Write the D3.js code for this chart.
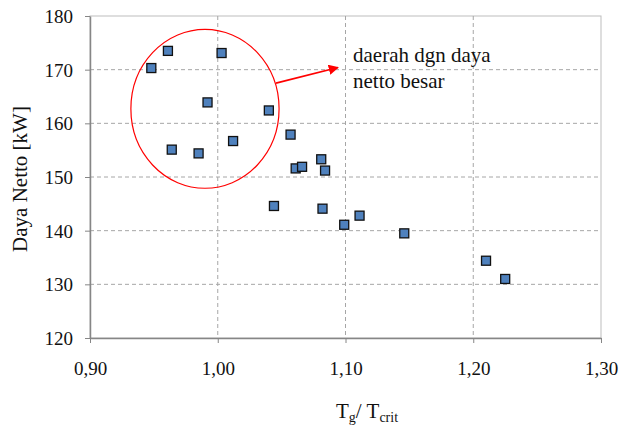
<!DOCTYPE html>
<html>
<head>
<meta charset="utf-8">
<script src="https://cdn.jsdelivr.net/npm/d3@7"></script>
<style>
  body { margin: 0; background: #fff; }
  svg text { font-family: "Liberation Serif", "Times New Roman", Times, serif !important; }
</style>
</head>
<body>
<svg id="chart" width="623" height="427"></svg>
<script>
// data
const tRatio = [0.948, 0.961, 1.003, 0.992, 1.040, 0.964, 0.985, 1.012, 1.057, 1.061,
                1.066, 1.081, 1.084, 1.044, 1.082, 1.111, 1.099, 1.146, 1.210, 1.225];
const dayaNetto = [170.3, 173.5, 173.1, 163.9, 162.4, 155.1, 154.4, 156.7, 157.9, 151.6,
                   151.9, 153.3, 151.2, 144.6, 144.1, 142.8, 141.1, 139.5, 134.4, 131.0];
const xTicks = [0.90, 1.00, 1.10, 1.20, 1.30];
const yTicks = [120, 130, 140, 150, 160, 170, 180];
const noteLines = ["daerah dgn daya", "netto besar"];

const svg = d3.select("#chart");
const plotL = 90, plotR = 601, plotT = 16, plotB = 338;

const x = d3.scaleLinear().domain([0.9, 1.3]).range([plotL, plotR]);
const y = d3.scaleLinear().domain([120, 180]).range([plotB, plotT]);

// plot border (top/right)
svg.append("rect")
    .attr("x", plotL).attr("y", plotT)
    .attr("width", plotR - plotL).attr("height", plotB - plotT)
    .attr("fill", "none").attr("stroke", "#bdbdbd").attr("stroke-width", 1);

// gridlines
svg.append("g").selectAll("line")
    .data(yTicks.filter(d => d > 120 && d < 180))
    .enter().append("line")
    .attr("x1", plotL).attr("x2", plotR)
    .attr("y1", d => y(d)).attr("y2", d => y(d))
    .attr("stroke", "#a6a6a6").attr("stroke-dasharray", "4,3");

svg.append("g").selectAll("line")
    .data(xTicks.filter(d => d > 0.9 && d < 1.3))
    .enter().append("line")
    .attr("y1", plotT).attr("y2", plotB)
    .attr("x1", d => x(d)).attr("x2", d => x(d))
    .attr("stroke", "#a6a6a6").attr("stroke-dasharray", "4,3");

// axes
const xAxis = svg.append("g")
    .attr("transform", `translate(0,${plotB})`)
    .call(d3.axisBottom(x).tickValues(xTicks).tickSizeInner(5).tickSizeOuter(0)
        .tickFormat(d => d3.format(".2f")(d).replace(".", ",")));
xAxis.select(".domain").attr("stroke", "#868686").attr("stroke-width", 1.5);
xAxis.selectAll(".tick line").attr("stroke", "#868686");
xAxis.selectAll("text").attr("font-size", 19).attr("fill", "#111")
    .attr("dy", 0).attr("y", 37);

const yAxis = svg.append("g")
    .attr("transform", `translate(${plotL},0)`)
    .call(d3.axisLeft(y).tickValues(yTicks).tickSizeInner(5).tickSizeOuter(0));
yAxis.select(".domain").attr("stroke", "#868686").attr("stroke-width", 1.5);
yAxis.selectAll(".tick line").attr("stroke", "#868686");
yAxis.selectAll("text").attr("font-size", 19).attr("fill", "#111")
    .attr("x", -17).attr("dy", "0.34em");

// axis titles
svg.append("text")
    .attr("transform", "translate(27,179) rotate(-90)")
    .attr("text-anchor", "middle")
    .attr("font-size", 21).attr("fill", "#111")
    .text("Daya Netto [kW]");

const xt = svg.append("text")
    .attr("x", 336).attr("y", 418)
    .attr("font-size", 21).attr("fill", "#111");
xt.append("tspan").text("T");
xt.append("tspan").attr("font-size", 14).attr("dy", 4).text("g");
xt.append("tspan").attr("dy", -4).text("/ T");
xt.append("tspan").attr("font-size", 14).attr("dy", 4).text("crit");

// ellipse + arrow annotation
svg.append("ellipse")
    .attr("cx", x(0.99)).attr("cy", y(162.7))
    .attr("rx", x(0.99 + 0.058) - x(0.99)).attr("ry", y(162.7 - 14.8) - y(162.7))
    .attr("fill", "none").attr("stroke", "#ff0000").attr("stroke-width", 1.2);

svg.append("defs").append("marker")
    .attr("id", "arr").attr("viewBox", "0 0 10 10")
    .attr("refX", 9).attr("refY", 5)
    .attr("markerWidth", 6).attr("markerHeight", 6)
    .attr("markerUnits", "strokeWidth")
    .attr("orient", "auto")
    .append("path").attr("d", "M0,0 L10,5 L0,10 z").attr("fill", "#ff0000");

svg.append("line")
    .attr("x1", x(1.0456)).attr("y1", y(167.5))
    .attr("x2", x(1.0941)).attr("y2", y(170.4))
    .attr("stroke", "#ff0000").attr("stroke-width", 1.7)
    .attr("marker-end", "url(#arr)");

svg.append("g").selectAll("text")
    .data(noteLines)
    .enter().append("text")
    .attr("x", 353)
    .attr("y", (d, i) => 61.5 + i * 26)
    .attr("font-size", 21).attr("fill", "#111")
    .text(d => d);

// points
const s = 9;
svg.append("g").selectAll("rect")
    .data(tRatio.map((t, i) => [t, dayaNetto[i]]))
    .enter().append("rect")
    .attr("x", d => x(d[0]) - s / 2)
    .attr("y", d => y(d[1]) - s / 2)
    .attr("width", s).attr("height", s)
    .attr("fill", "#4f81bd")
    .attr("stroke", "#111").attr("stroke-width", 1.3);
</script>
</body>
</html>
